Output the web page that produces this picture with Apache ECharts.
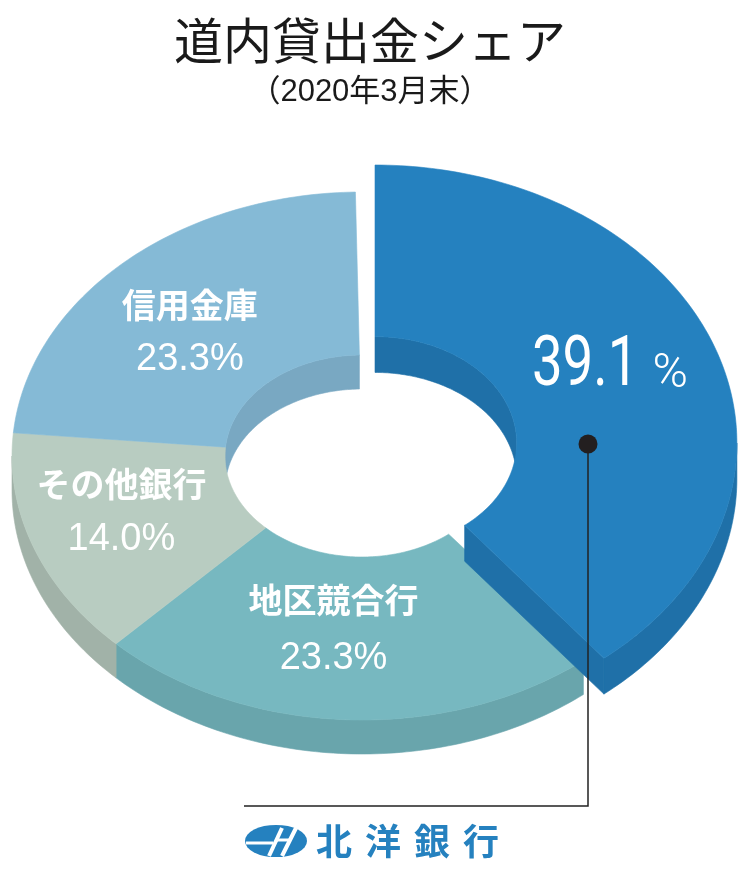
<!DOCTYPE html>
<html>
<head>
<meta charset="utf-8">
<script src="https://cdn.jsdelivr.net/npm/echarts@6/dist/echarts.min.js"></script>
<style>html,body{margin:0;padding:0;background:#fff;}#chart{width:740px;height:872px;}</style>
</head>
<body>
<div id="chart"></div>
<script>
// ---- data ----
const categories = ['北洋銀行', '地区競合行', 'その他銀行', '信用金庫'];
const shares = [39.1, 23.3, 14.0, 23.3];
const titleText = '道内貸出金シェア';
const subtitleText = '（2020年3月末）';
const brandText = ['北', '洋', '銀', '行'];

// ---- styling / layout ----
const topColors  = ['#2581BF', '#77B8C0', '#B8CCC1', '#85BAD6'];
const sideColors = ['#1F70A8', '#69A5AC', '#A1B2A8', '#79A8C2'];
const G = { cx: 362, cy: 456, Rx: 350, Ry: 264, rx: 137, ry: 101, depth: 34 };
const explodedIndex = 0;
const EX = { dx: 13, sx: 0.034, dy: -13, sy: 0.053 };
const labelNudge = [[0, 0], [-17, -9], [-12, -7], [-6, 10]];
const labelGap = [0, 29, 28, 27];

const chart = echarts.init(document.getElementById('chart'));

function rad(d) { return d * Math.PI / 180; }
function pt(t, rX, rY, dz) { return [G.cx + rX * Math.sin(rad(t)), G.cy - rY * Math.cos(rad(t)) + dz]; }
function arc(t0, t1, rX, rY, dz) {
  const n = Math.max(2, Math.ceil(Math.abs(t1 - t0) / 1));
  const out = [];
  for (let k = 0; k <= n; k++) out.push(pt(t0 + (t1 - t0) * k / n, rX, rY, dz));
  return out;
}
function inter(a0, a1, b0, b1) { const s = Math.max(a0, b0), e = Math.min(a1, b1); return e > s ? [s, e] : null; }

function renderItem(params, api) {
  const i = params.dataIndex;
  const v = api.value(1);
  let before = 0;
  for (let k = 0; k < i; k++) before += shares[k];
  const s = before / 100 * 360, e = (before + v) / 100 * 360;
  const ex = i === explodedIndex;
  const T = ex ? (p => [p[0] + EX.dx + EX.sx * (p[0] - G.cx), p[1] + EX.dy + EX.sy * (p[1] - G.cy)]) : (p => p);
  const D = G.depth;
  const zBase = ex ? 10 : 1, zTop = ex ? 15 : 5;
  const children = [];
  const poly = (pts, fill, z2) => children.push({ type: 'polygon', z2: z2, shape: { points: pts.map(T) }, style: { fill: fill, stroke: fill, lineWidth: 0.6 } });

  // outer side (front half)
  const sd = inter(s, e, 90, 270);
  if (sd) poly(arc(sd[0], sd[1], G.Rx, G.Ry, 0).concat(arc(sd[1], sd[0], G.Rx, G.Ry, D)), sideColors[i], zBase);
  // inner walls (back half)
  [[270, 450], [-90, 90]].forEach(r => {
    const w = inter(s, e, r[0], r[1]);
    if (w) poly(arc(w[0], w[1], G.rx, G.ry, 0).concat(arc(w[1], w[0], G.rx, G.ry, D)), sideColors[i], zBase);
  });
  // radial face of exploded slice
  if (ex && Math.sin(rad(e)) > 0) {
    poly([pt(e, G.rx, G.ry, 0), pt(e, G.Rx, G.Ry, 0), pt(e, G.Rx, G.Ry, D), pt(e, G.rx, G.ry, D)], sideColors[i], zBase);
  }
  // top surface
  poly(arc(s, e, G.Rx, G.Ry, 0).concat(arc(e, s, G.rx, G.ry, 0)), topColors[i], zTop);

  // labels
  const mid = (s + e) / 2;
  const a = T(pt(mid, (G.Rx + G.rx) / 2, (G.Ry + G.ry) / 2, 0));
  const pct = v.toFixed(1);
  if (ex) {
    children.push({ type: 'text', z2: 20, x: a[0] - 27, y: a[1] - 11, scaleX: 0.78,
      style: { text: pct, fill: '#fff', font: '400 70px Roboto', align: 'center', verticalAlign: 'middle' } });
    children.push({ type: 'text', z2: 20, x: a[0] + 58, y: a[1] - 3,
      style: { text: '%', fill: '#fff', font: '300 48px Roboto', align: 'center', verticalAlign: 'middle' } });
  } else {
    const n = labelNudge[i], g = labelGap[i];
    children.push({ type: 'text', z2: 20, x: a[0] + n[0], y: a[1] + n[1] - g,
      style: { text: categories[i], fill: '#fff', font: 'bold 34px "Noto Sans CJK JP"', align: 'center', verticalAlign: 'middle' } });
    children.push({ type: 'text', z2: 20, x: a[0] + n[0], y: a[1] + n[1] + g,
      style: { text: pct + '%', fill: '#fff', font: '38px "Liberation Sans", Arial', align: 'center', verticalAlign: 'middle' } });
  }
  return { type: 'group', children: children };
}

const brandColor = '#2581BF';
const option = {
  backgroundColor: '#ffffff',
  animation: false,
  title: {
    text: titleText, subtext: subtitleText, left: 'center', top: 6, itemGap: 6,
    textStyle: { fontFamily: '"Noto Sans CJK JP"', fontSize: 49, fontWeight: 400, color: '#1a1a1a', lineHeight: 58 },
    subtextStyle: { fontFamily: '"Liberation Sans", "Noto Sans CJK JP"', fontSize: 31, fontWeight: 400, color: '#1a1a1a', lineHeight: 34 }
  },
  series: [{ type: 'custom', coordinateSystem: 'none', silent: true, data: shares.map((v, i) => [i, v]), renderItem: renderItem }],
  graphic: [
    { type: 'polyline', z: 50, shape: { points: [[588, 444], [588, 806], [244, 806]] }, style: { stroke: '#222', lineWidth: 1.5, fill: null } },
    { type: 'circle', z: 51, shape: { cx: 588, cy: 444, r: 9.5 }, style: { fill: '#231f20' } },
    { type: 'group', x: 276, y: 841, z: 50, children: [
      { type: 'circle', scaleY: 0.52, shape: { cx: 0, cy: 0, r: 31 }, style: { fill: brandColor } },
      { type: 'line', shape: { x1: -30, y1: 2, x2: -3, y2: 2 }, style: { stroke: '#fff', lineWidth: 3 } },
      { type: 'line', shape: { x1: -7, y1: 15, x2: 6, y2: -13 }, style: { stroke: '#fff', lineWidth: 4 } },
      { type: 'line', shape: { x1: 1, y1: -1, x2: 13, y2: -1 }, style: { stroke: '#fff', lineWidth: 3 } },
      { type: 'line', shape: { x1: 6, y1: 15, x2: 20, y2: -13 }, style: { stroke: '#fff', lineWidth: 4 } }
    ] }
  ].concat(brandText.map((c, k) => ({
    type: 'text', z: 50, x: 334 + k * 49, y: 841,
    style: { text: c, fill: brandColor, font: 'bold 36px "Noto Sans CJK JP"', align: 'center', verticalAlign: 'middle' }
  })))
};
chart.setOption(option);
</script>
</body>
</html>
